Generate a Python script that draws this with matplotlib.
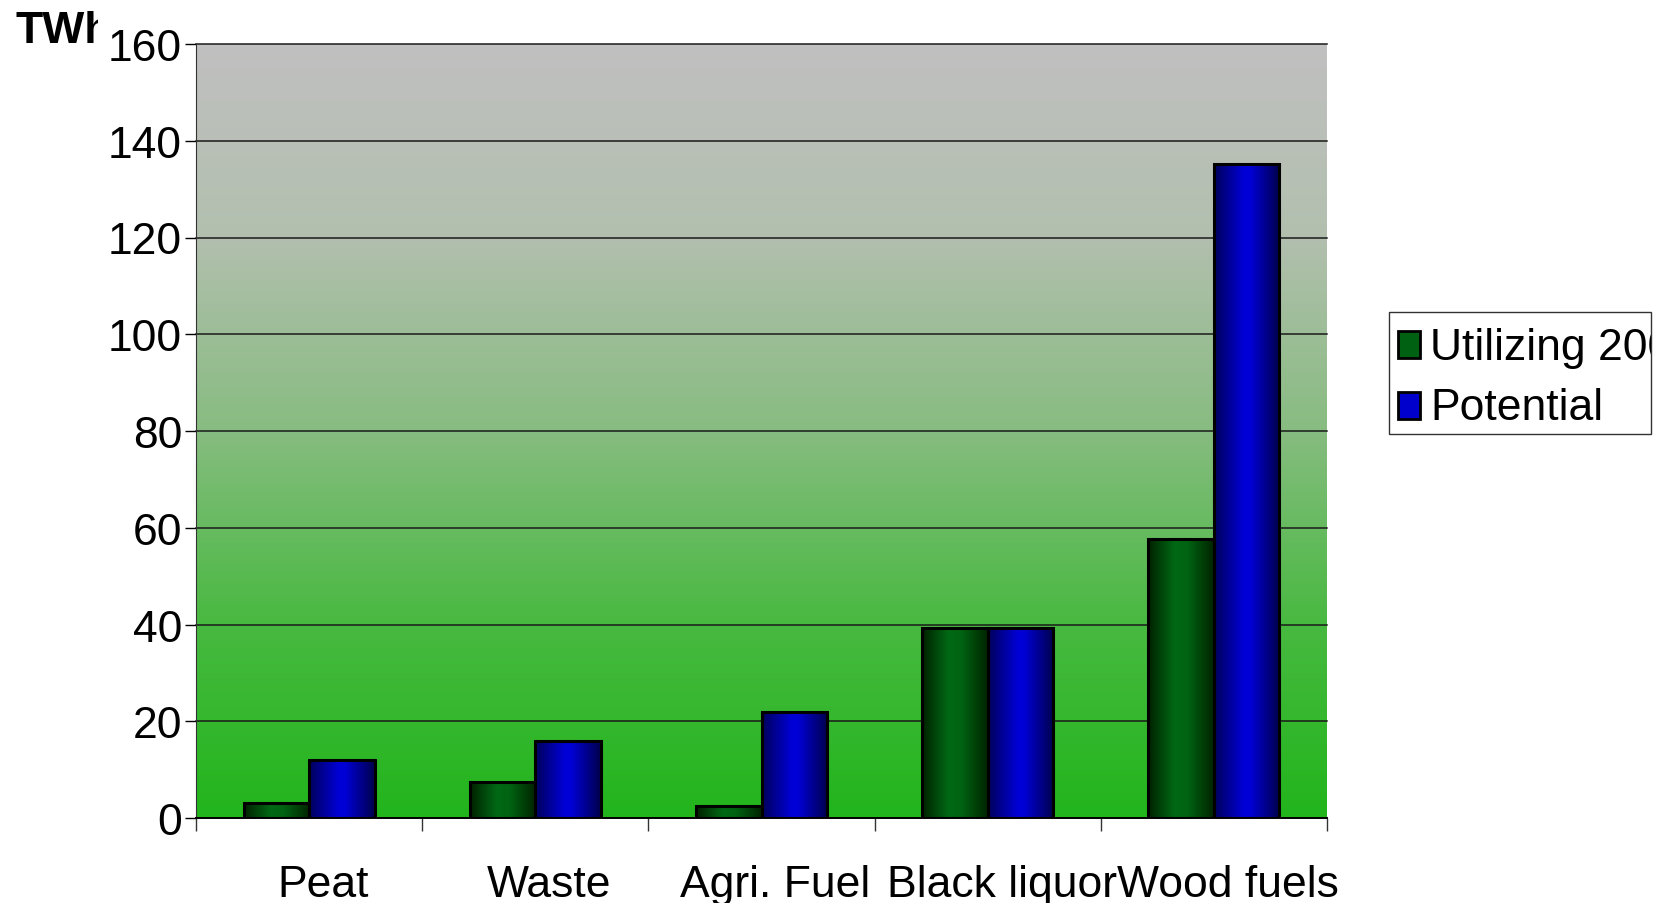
import numpy as np
import matplotlib.pyplot as plt
from matplotlib.colors import LinearSegmentedColormap
from matplotlib.patches import Rectangle
from matplotlib.transforms import Bbox, ScaledTranslation

plt.rcParams['font.family'] = ['Liberation Sans', 'DejaVu Sans']

categories = ['Peat', 'Waste', 'Agri. Fuel', 'Black liquor', 'Wood fuels']
utilizing = [3.2, 7.4, 2.5, 39.3, 57.7]
potential = [12.0, 16.0, 22.0, 39.3, 135.2]
series_names = ['Utilizing 2007', 'Potential']

W, H = 1666, 904
fig = plt.figure(figsize=(W / 100, H / 100), dpi=100)
ax = fig.add_axes([196 / W, 1 - 819 / H, (1327 - 196) / W, (819 - 45) / H])

# background gradient, green at bottom to grey at top
bg = LinearSegmentedColormap.from_list('bg', [
    (0.0, (34 / 255, 181 / 255, 28 / 255)),
    (0.25, (72 / 255, 185 / 255, 64 / 255)),
    (0.5, (135 / 255, 188 / 255, 128 / 255)),
    (0.75, (178 / 255, 191 / 255, 174 / 255)),
    (1.0, (192 / 255, 192 / 255, 192 / 255)),
])
ax.imshow(np.linspace(0, 1, 256).reshape(-1, 1), cmap=bg, origin='lower',
          extent=(-0.5, 4.5, 0, 160), aspect='auto', zorder=0)

green_cm = LinearSegmentedColormap.from_list('g', [
    (0.0, (0, 0.13, 0)), (0.4, (0, 0.41, 0.08)), (0.6, (0, 0.39, 0.07)), (1.0, (0, 0.14, 0))])
blue_cm = LinearSegmentedColormap.from_list('b', [
    (0.0, (0, 0, 0.36)), (0.45, (0, 0, 0.84)), (0.55, (0, 0, 0.84)), (1.0, (0, 0, 0.3))])

x = np.arange(len(categories))
w = 0.29
grad = np.linspace(0, 1, 128).reshape(1, -1)
for vals, off, cm in [(utilizing, -w / 2, green_cm), (potential, w / 2, blue_cm)]:
    bars = ax.bar(x + off, vals, w, facecolor='none', edgecolor='black', linewidth=2.2, zorder=3)
    for b in bars:
        im = ax.imshow(grad, cmap=cm, aspect='auto', zorder=2,
                       extent=(b.get_x(), b.get_x() + b.get_width(), 0, b.get_height()))
        im.set_clip_path(b)

for yv in range(20, 161, 20):
    ax.axhline(yv, color='#1a1a1a', linewidth=1.1, zorder=1, clip_on=False)

ax.set_xlim(-0.5, 4.5)
ax.set_ylim(0, 160)
ax.set_yticks(range(0, 161, 20))
ax.tick_params(axis='y', direction='out', length=8, width=1, pad=2, labelsize=32)
ax.set_xticks(np.arange(-0.5, 5, 1))
ax.set_xticklabels([])
ax.tick_params(axis='x', which='major', direction='out', length=9.5, width=1, color='#333333')
ax.set_xticks(x, minor=True)
ax.set_xticklabels(categories, minor=True, fontsize=32)
ax.tick_params(axis='x', which='minor', length=0, pad=33)
# the category names sit a little right of the group centres
shift = ScaledTranslation(0.14, 0, fig.dpi_scale_trans)
for lbl in ax.get_xticklabels(minor=True):
    lbl.set_transform(lbl.get_transform() + shift)
for s in ['top', 'right']:
    ax.spines[s].set_visible(False)
ax.spines['left'].set_color('#333333')
ax.spines['bottom'].set_linewidth(1.4)

# y axis unit, clipped like in the original
t = fig.text(15 / W, 1 - 43 / H, 'TWh', fontsize=32, fontweight='bold', va='baseline')
t.set_clip_box(Bbox([[0, 0], [98, H]]))
t.set_clip_on(True)

# legend box, its right side cut off as in the original
fig.patches.append(Rectangle((1389 / W, 1 - 435 / H), (1651 - 1389) / W, (435 - 313) / H,
                             transform=fig.transFigure, facecolor='white',
                             edgecolor='#333333', linewidth=1))
for name, col, top, base in [(series_names[0], (0, 0.38, 0.07), 332, 360),
                             (series_names[1], (0, 0, 0.8), 393, 420)]:
    fig.patches.append(Rectangle((1398 / W, 1 - (top + 27) / H), 22 / W, 27 / H,
                                 transform=fig.transFigure, facecolor=col,
                                 edgecolor='black', linewidth=2))
    lt = fig.text(1430 / W, 1 - base / H, name, fontsize=32, va='baseline')
    lt.set_clip_box(Bbox([[1389, 0], [1651, H]]))
    lt.set_clip_on(True)

fig.savefig('out.png', dpi=100)
